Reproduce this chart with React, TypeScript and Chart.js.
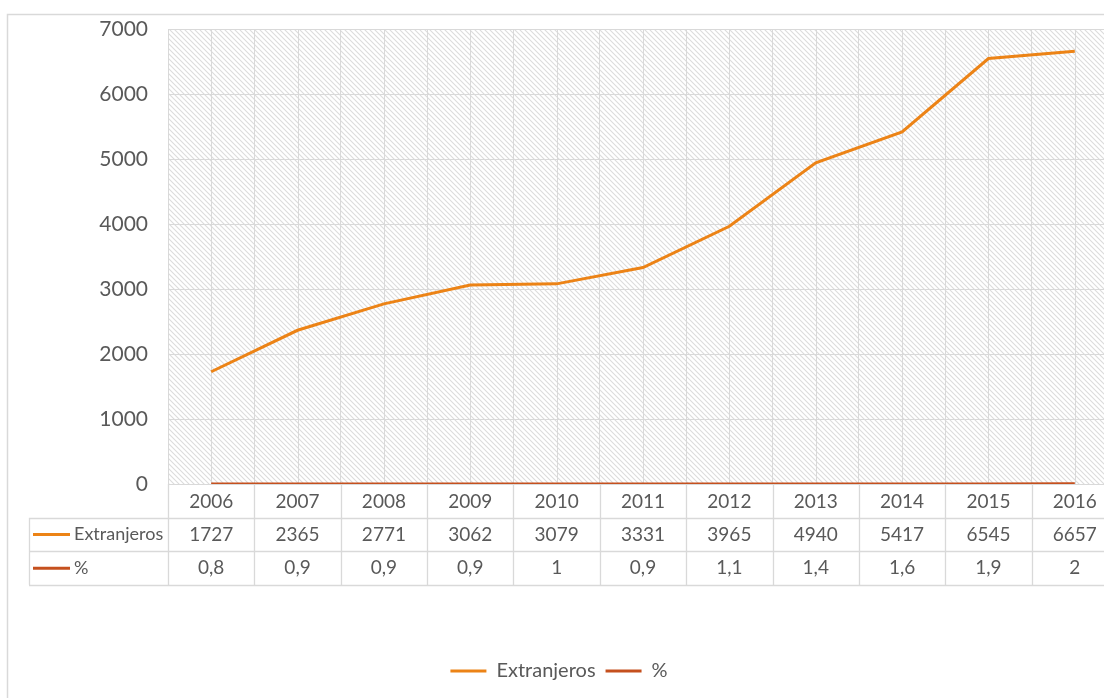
import React, { useEffect, useRef } from "react";
import { Chart, registerables } from "chart.js";

Chart.register(...registerables);

const years = ["2006", "2007", "2008", "2009", "2010", "2011", "2012", "2013", "2014", "2015", "2016"];
const extranjeros = [1727, 2365, 2771, 3062, 3079, 3331, 3965, 4940, 5417, 6545, 6657];
const porcentaje = [0.8, 0.9, 0.9, 0.9, 1, 0.9, 1.1, 1.4, 1.6, 1.9, 2];
const seriesNames = ["Extranjeros", "%"];
const yMin = 0;
const yMax = 7000;
const yStep = 1000;

const COLORS = ["#EC8316", "#C5501E"];
const TEXT = "#595959";
const GRID = "#D9D9D9";
const FONT = "Lato, 'Open Sans', sans-serif";
const FS = 19;

function makePattern(): CanvasPattern | string {
  const s = 5;
  const p = document.createElement("canvas");
  p.width = s;
  p.height = s;
  const c = p.getContext("2d");
  if (!c) return "#f4f4f4";
  c.fillStyle = "#ffffff";
  c.fillRect(0, 0, s, s);
  c.strokeStyle = "#DCDCDC";
  c.lineWidth = 1.1;
  c.beginPath();
  c.moveTo(-1, -1);
  c.lineTo(s + 1, s + 1);
  c.moveTo(-1, s - 1);
  c.lineTo(1, s + 1);
  c.moveTo(s - 1, -1);
  c.lineTo(s + 1, 1);
  c.stroke();
  const pat = c.createPattern(p, "repeat");
  return pat || "#f4f4f4";
}

export default function App() {
  const ref = useRef<HTMLCanvasElement | null>(null);

  useEffect(() => {
    const canvas = ref.current;
    if (!canvas) return;
    const pattern = makePattern();
    const ROW_H = 33.7;
    const TABLE_LEFT = 29;

    const tablePlugin = {
      id: "excelTable",
      beforeDraw(chart: any) {
        const { ctx, chartArea: a } = chart;
        ctx.save();
        ctx.fillStyle = "#ffffff";
        ctx.fillRect(0, 0, chart.width, chart.height);
        ctx.strokeStyle = GRID;
        ctx.lineWidth = 1.5;
        ctx.strokeRect(7.5, 14.5, chart.width + 40, chart.height + 40);
        ctx.fillStyle = pattern as any;
        ctx.fillRect(a.left, a.top, a.right - a.left, a.bottom - a.top);
        ctx.restore();
      },
      beforeDatasetsDraw(chart: any) {
        const { ctx, chartArea: a } = chart;
        const xs = chart.scales.x;
        ctx.save();
        ctx.strokeStyle = GRID;
        ctx.lineWidth = 1;
        ctx.beginPath();
        for (let i = 0; i < years.length; i++) {
          const px = Math.round(xs.getPixelForValue(i)) + 0.5;
          ctx.moveTo(px, a.top);
          ctx.lineTo(px, a.bottom);
        }
        ctx.stroke();
        ctx.restore();
      },
      afterDraw(chart: any) {
        const { ctx, chartArea: a } = chart;
        const xs = chart.scales.x;
        const w = (a.right - a.left) / years.length;
        const top = a.bottom;
        ctx.save();
        ctx.strokeStyle = GRID;
        ctx.lineWidth = 1.3;
        ctx.beginPath();
        for (let r = 1; r <= 3; r++) {
          const y = Math.round(top + r * ROW_H) + 0.5;
          ctx.moveTo(TABLE_LEFT, y);
          ctx.lineTo(chart.width + 10, y);
        }
        for (let k = 0; k <= years.length; k++) {
          const x = Math.round(a.left + k * w) + 0.5;
          ctx.moveTo(x, top);
          ctx.lineTo(x, top + 3 * ROW_H);
        }
        ctx.moveTo(TABLE_LEFT + 0.5, top + ROW_H);
        ctx.lineTo(TABLE_LEFT + 0.5, top + 3 * ROW_H);
        ctx.stroke();

        const rows = [
          extranjeros.map((v) => String(v)),
          porcentaje.map((v) => String(v).replace(".", ",")),
        ];
        ctx.textBaseline = "middle";
        rows.forEach((vals, r) => {
          const cy = top + (r + 1.5) * ROW_H;
          ctx.strokeStyle = COLORS[r];
          ctx.lineWidth = 3;
          ctx.beginPath();
          ctx.moveTo(33, cy);
          ctx.lineTo(70, cy);
          ctx.stroke();
          ctx.fillStyle = TEXT;
          ctx.textAlign = "left";
          ctx.font = `18px ${FONT}`;
          ctx.fillText(seriesNames[r], 74, cy);
          ctx.textAlign = "center";
          ctx.font = `${FS}px ${FONT}`;
          vals.forEach((t, i) => {
            ctx.fillText(t, xs.getPixelForValue(i), cy);
          });
        });
        ctx.restore();
      },
    };

    const chart = new Chart(canvas, {
      type: "line",
      data: {
        labels: years,
        datasets: [
          {
            label: seriesNames[0],
            data: extranjeros,
            borderColor: COLORS[0],
            backgroundColor: COLORS[0],
            borderWidth: 3,
            pointRadius: 0,
            pointStyle: "line",
            tension: 0,
          },
          {
            label: seriesNames[1],
            data: porcentaje,
            borderColor: COLORS[1],
            backgroundColor: COLORS[1],
            borderWidth: 3,
            pointRadius: 0,
            pointStyle: "line",
            tension: 0,
          },
        ],
      },
      options: {
        animation: false,
        responsive: false,
        maintainAspectRatio: false,
        layout: { padding: { left: 0, top: 29, right: 12, bottom: 7 } },
        plugins: {
          legend: {
            position: "bottom",
            labels: {
              color: TEXT,
              font: { family: FONT, size: 20 },
              usePointStyle: true,
              pointStyle: "line",
              pointStyleWidth: 36,
              padding: 10,
            },
          },
          tooltip: { enabled: false },
        },
        scales: {
          x: {
            type: "category",
            offset: true,
            grid: { color: GRID, offset: true, drawTicks: false, lineWidth: 1 },
            border: { color: GRID, width: 1 },
            ticks: { color: TEXT, font: { family: FONT, size: FS }, padding: 6, maxRotation: 0, autoSkip: false },
            afterFit: (scale: any) => {
              scale.height = 167;
            },
          },
          y: {
            min: yMin,
            max: yMax,
            grid: { color: GRID, drawTicks: true, tickLength: 20, tickColor: "rgba(0,0,0,0)", lineWidth: 1 },
            border: { display: false },
            ticks: {
              stepSize: yStep,
              color: TEXT,
              font: { family: FONT, size: 21 },
              padding: 0,
              callback: (v: any) => String(v),
            },
            afterFit: (scale: any) => {
              scale.width = 168;
            },
          },
        },
      },
      plugins: [tablePlugin],
    } as any);

    return () => chart.destroy();
  }, []);

  return (
    <div style={{ position: "absolute", left: 0, top: 0, width: 1104, height: 698, overflow: "hidden", background: "#fff" }}>
      <canvas ref={ref} width={1130} height={698} style={{ width: 1130, height: 698, display: "block" }} />
    </div>
  );
}
